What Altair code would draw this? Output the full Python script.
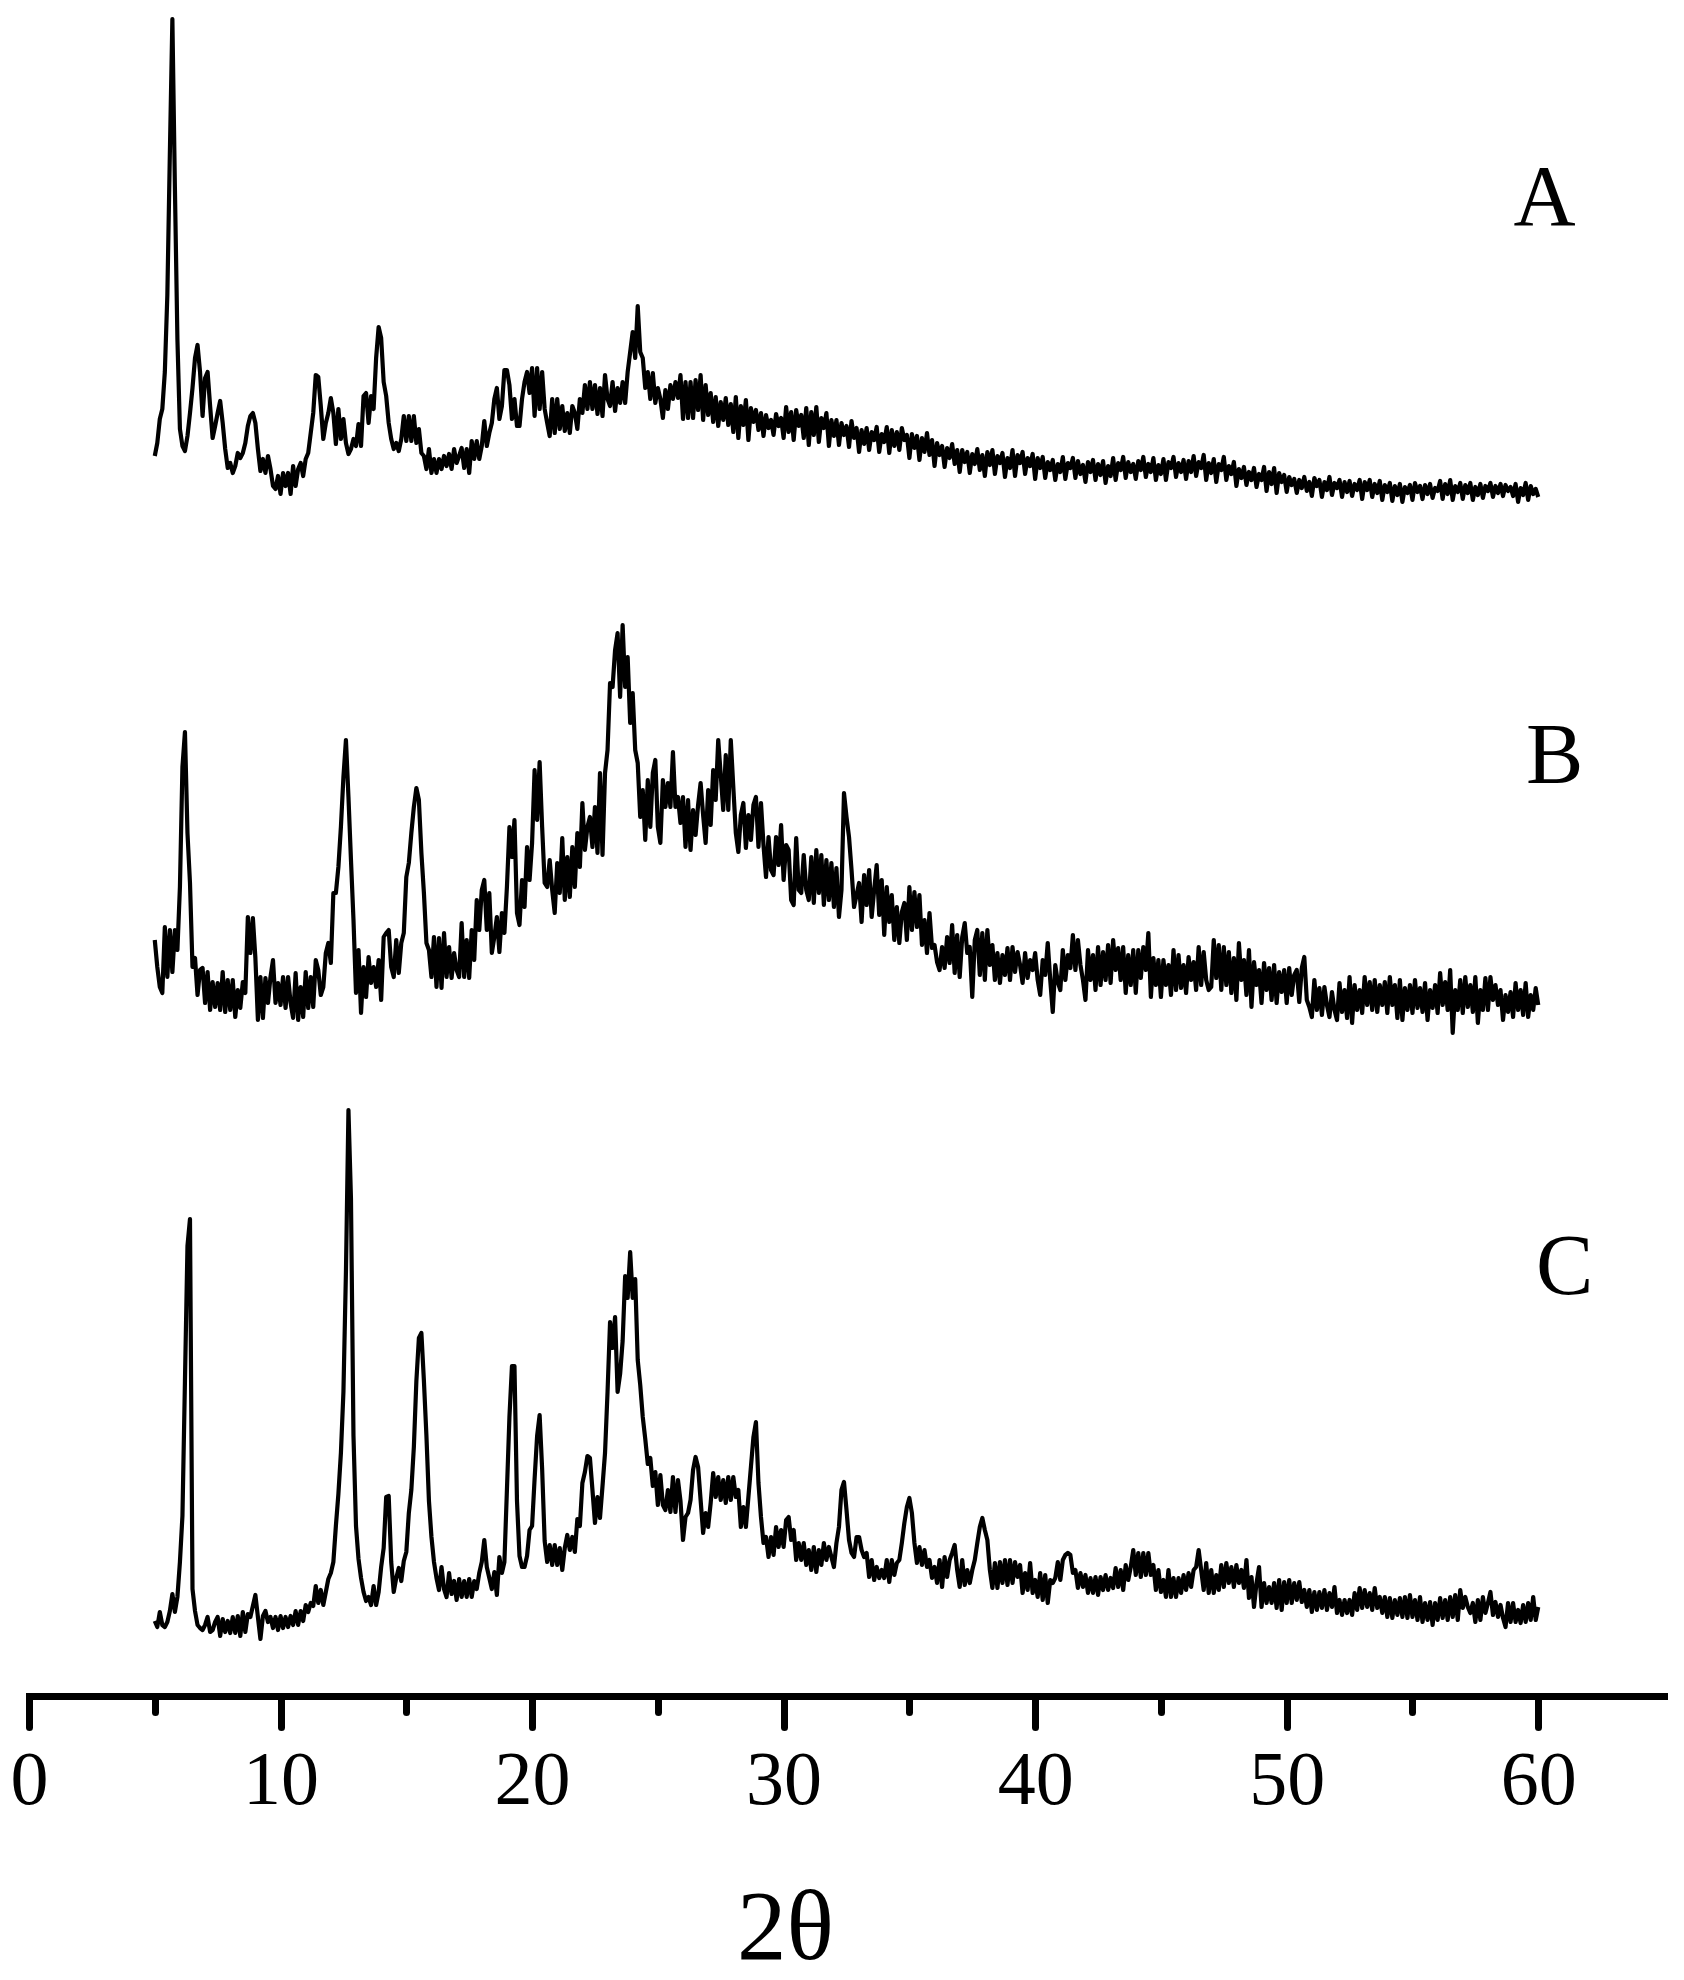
import altair as alt
import pandas as pd

two_theta = [round(5 + i / 10, 1) for i in range(551)]

# Intensity readings (a.u.), one row per degree 2-theta, 5.0 to 60.0
curve_a = [
54,67,91,101,138,215,357,491,323,171,
81,64,59,74,97,122,152,165,138,94,
132,138,104,72,84,97,109,87,61,42,
47,37,44,57,52,57,67,84,94,97,
87,61,39,51,37,54,41,24,21,34,
16,37,24,37,16,44,24,41,47,34,
51,57,77,97,135,133,104,71,87,97,
112,97,66,101,71,91,67,56,61,71,
64,86,64,114,117,87,114,101,152,183,
172,128,114,87,71,61,67,59,71,94,
69,94,69,94,67,81,57,54,41,61,
37,51,37,51,41,54,44,56,41,61,
47,54,62,42,61,37,69,51,69,51,
64,89,64,77,87,111,122,91,104,140,
140,125,91,111,84,84,111,128,138,117,
142,94,142,101,138,101,87,74,111,77,
111,81,104,79,97,77,104,97,81,111,
97,125,101,128,101,125,96,122,94,135,
111,104,128,99,122,107,128,107,138,158,
178,152,204,158,152,122,138,111,137,107,
122,111,92,120,101,125,111,128,112,135,
91,128,92,128,92,130,100,135,90,125,
95,117,88,113,84,108,90,112,85,106,
78,113,72,104,85,110,70,102,88,100,
80,97,74,95,82,90,75,96,84,92,
72,103,78,98,70,100,84,95,72,102,
65,98,75,103,68,92,82,97,64,90,
74,90,65,87,75,84,63,89,72,82,
58,80,66,82,60,78,70,83,58,76,
68,83,57,80,64,78,60,82,70,75,
52,76,62,74,50,72,58,77,55,70,
44,67,55,64,43,62,52,66,46,60,
38,60,48,58,37,56,46,61,40,55,
34,58,45,60,36,54,47,57,33,52,
42,60,34,55,47,58,36,52,44,56,
31,52,42,53,32,48,40,50,30,46,
38,53,31,47,42,52,32,49,36,45,
28,48,38,50,30,46,35,49,27,44,
34,52,30,47,40,53,32,48,38,46,
31,49,40,53,33,46,38,52,30,45,
36,51,30,48,42,53,33,47,38,50,
31,49,38,54,34,48,42,55,30,47,
37,51,28,46,40,53,30,44,36,48,
24,41,32,43,25,38,30,42,23,36,
30,43,19,38,26,42,17,37,28,35,
18,33,25,31,17,30,22,33,19,28,
14,32,24,30,13,28,20,33,15,27,
22,30,13,28,18,29,14,26,20,30,
11,28,20,30,13,26,17,29,10,25,
18,27,9,24,15,26,8,23,17,25,
10,27,18,24,11,25,16,26,12,22,
19,29,11,26,16,30,10,24,18,27,
11,25,17,27,10,23,15,26,12,24,
19,27,13,24,17,26,14,25,19,23,
14,26,8,22,15,27,10,24,16,21,
13]

curve_b = [
100,73,53,47,113,63,110,68,110,90,
153,273,308,207,157,73,82,45,70,72,
37,68,30,58,33,57,30,68,28,60,
30,60,23,50,32,58,47,123,87,122,
82,20,63,22,62,37,63,80,37,57,
35,63,32,63,37,22,67,20,53,23,
68,32,63,33,80,70,45,53,87,97,
77,147,147,173,213,263,300,243,180,120,
47,90,27,73,43,83,57,73,53,80,
40,103,107,110,73,63,100,67,97,107,
163,177,207,233,252,240,187,147,97,90,
63,103,53,102,52,107,63,93,62,87,
70,63,117,63,100,62,110,80,140,110,
150,160,110,147,87,103,123,88,127,107,
153,213,183,220,127,115,160,133,193,160,
197,270,220,278,213,157,153,180,150,127,
177,147,202,140,183,143,193,153,207,173,
237,190,213,223,193,233,187,267,185,267,
290,357,353,390,407,343,415,353,383,317,
347,290,277,223,250,200,260,213,267,280,
213,197,260,233,257,233,288,233,243,217,
243,193,240,190,230,205,235,257,225,197,
250,215,270,240,300,265,230,285,230,300,
253,207,188,225,237,192,225,200,235,243,
193,237,195,163,203,170,165,203,175,215,
160,195,190,140,135,202,150,147,185,150,
140,183,137,190,147,185,135,180,140,177,
133,172,123,150,247,223,203,170,133,145,
157,118,165,135,170,123,150,175,125,160,
105,153,118,145,100,133,97,128,137,100,
153,110,148,113,145,95,120,87,127,92,
95,78,70,93,72,103,77,115,67,105,
63,103,117,87,93,43,100,110,65,107,
60,110,75,95,60,87,57,85,65,92,
60,93,68,88,75,57,87,62,80,70,
87,60,45,80,65,97,60,28,75,58,
50,90,60,85,72,105,70,100,75,60,
40,90,60,85,50,93,55,88,60,95,
57,100,70,92,60,93,47,85,55,90,
47,90,62,93,70,107,43,82,55,80,
43,80,55,75,45,90,50,85,52,75,
47,83,60,78,50,93,55,88,60,50,
53,100,62,95,50,93,55,88,47,82,
40,97,60,80,45,90,33,78,55,70,
37,77,50,72,40,75,37,68,48,70,
37,72,45,65,70,38,72,83,40,33,
23,60,30,52,25,53,35,23,48,30,
20,57,28,50,22,63,17,55,30,50,
27,63,35,58,30,60,28,55,35,58,
27,63,35,55,22,60,20,52,30,55,
27,60,32,52,28,57,20,50,32,55,
27,67,35,58,30,70,7,50,30,60,
27,63,33,55,28,63,17,50,30,62,
30,63,40,55,35,50,20,45,28,48,
23,57,30,50,25,57,23,45,30,52,
35]

curve_c = [
29,23,38,25,23,28,39,56,38,53,
88,134,269,404,431,61,39,25,22,20,
25,33,18,20,28,33,14,31,18,29,
17,33,17,34,14,38,18,36,33,44,
55,33,11,34,39,28,33,22,33,20,
34,22,33,23,34,25,39,25,39,29,
45,38,47,44,64,47,60,45,58,71,
77,88,124,156,197,258,378,540,451,214,
124,91,72,58,49,53,45,64,45,58,
83,102,153,154,88,58,72,82,69,89,
98,137,160,203,269,312,317,269,214,149,
113,88,72,60,83,61,53,77,56,69,
50,71,53,69,53,71,53,69,61,77,
88,110,83,72,61,78,55,93,77,88,
160,233,284,284,149,94,83,83,94,120,
124,171,214,235,181,109,88,105,85,105,
85,102,80,102,115,100,113,98,131,124,
167,178,194,192,160,127,153,132,164,197,
258,328,302,333,258,276,309,374,352,398,
352,371,290,265,233,211,186,192,164,178,
145,175,145,140,160,138,173,138,170,149,
110,133,137,150,180,193,183,150,117,137,
123,147,177,153,173,150,170,147,173,150,
173,153,160,123,143,123,153,183,213,228,
167,133,107,113,93,113,95,123,103,120,
103,130,133,110,120,90,107,90,107,85,
100,80,103,78,100,85,107,90,103,93,
83,107,123,160,168,140,110,97,93,113,
113,100,93,97,73,90,70,83,72,80,
72,90,68,90,75,87,90,107,127,143,
152,137,107,87,103,85,100,83,90,72,
83,67,90,63,93,73,90,97,105,80,
63,90,65,80,67,80,90,107,123,132,
120,110,80,62,87,62,88,67,90,65,
90,67,88,73,85,57,77,60,87,57,
70,53,77,50,75,47,70,67,72,88,
70,90,95,97,95,77,80,62,77,63,
75,57,72,57,73,55,73,60,75,60,
72,62,82,63,80,60,85,70,83,100,
75,97,73,97,75,97,75,85,60,80,
58,70,53,80,53,72,53,72,57,75,
60,77,63,80,83,100,80,60,87,57,
80,57,75,60,85,63,87,67,83,63,
85,67,80,62,90,52,73,43,67,83,
43,67,47,63,47,67,42,70,40,68,
47,70,47,67,50,68,48,60,43,60,
38,58,40,58,42,60,40,57,43,63,
37,50,35,50,37,50,35,57,40,62,
42,60,43,57,40,62,42,53,37,53,
33,52,32,50,35,52,33,53,32,55,
33,50,30,53,28,47,30,48,25,47,
30,52,32,50,30,53,33,55,30,60,
42,53,43,37,47,28,50,30,53,37,
47,58,35,48,33,45,32,23,47,28,
47,28,40,27,45,28,47,30,53,30,
43]

offset_a = 1186
offset_b = 656
offset_c = 46

assert len(curve_a) == len(curve_b) == len(curve_c) == len(two_theta), (len(curve_a), len(curve_b), len(curve_c))

rows = []
for name, values, off in [("A", curve_a, offset_a), ("B", curve_b, offset_b), ("C", curve_c, offset_c)]:
    for t, v in zip(two_theta, values):
        rows.append({"theta": t, "intensity": v + off, "sample": name})
curves = pd.DataFrame(rows)

labels = pd.DataFrame({
    "theta": [60.25, 60.65, 61.05],
    "intensity": [1471, 913, 402],
    "text": ["A", "B", "C"],
})

major_ticks = [0, 10, 20, 30, 40, 50, 60]
minor_ticks = [5, 15, 25, 35, 45, 55]

FONT = "Liberation Serif"
x_scale = alt.Scale(domain=[0, 65], nice=False, zero=False)
y_scale = alt.Scale(domain=[0, 1686], nice=False, zero=False)

lines = alt.Chart(curves).mark_line(color="black", strokeWidth=4.2, strokeJoin="round").encode(
    x=alt.X("theta:Q", scale=x_scale, axis=alt.Axis(
        orient="bottom", values=major_ticks, format="d", grid=False,
        title="2θ", titleFont=FONT, titleFontSize=99, titleFontWeight="normal", titleColor="black",
        titleX=756, titleY=262, titleAlign="center", titleBaseline="alphabetic",
        labelFont=FONT, labelFontSize=76, labelColor="black", labelPadding=16, labelFlush=False,
        labelOverlap=False, labelAngle=0,
        tickSize=31, tickWidth=7, tickColor="black", tickCap="round",
        domainWidth=7, domainColor="black", domainCap="square",
    )),
    y=alt.Y("intensity:Q", scale=y_scale, axis=None),
    detail="sample:N",
)

text = alt.Chart(labels).mark_text(font=FONT, fontSize=86, color="black", align="center", baseline="alphabetic").encode(
    x=alt.X("theta:Q", scale=x_scale, axis=alt.Axis(
        orient="bottom", values=minor_ticks, labels=False, title=None, grid=False, domain=False,
        tickSize=16, tickWidth=7, tickColor="black", tickCap="round",
    )),
    y=alt.Y("intensity:Q", scale=y_scale, axis=None),
    text="text:N",
)

chart = (
    alt.layer(lines, text)
    .resolve_scale(x="independent")
    .resolve_axis(x="independent")
    .properties(
        width=1635,
        height=1686,
        padding={"left": 21, "top": 2, "right": 12, "bottom": 276},
        autosize=alt.AutoSizeParams(type="none"),
        background="white",
    )
    .configure_view(stroke=None)
)

chart.save("out.html", embed_options={"renderer": "svg", "actions": False})
